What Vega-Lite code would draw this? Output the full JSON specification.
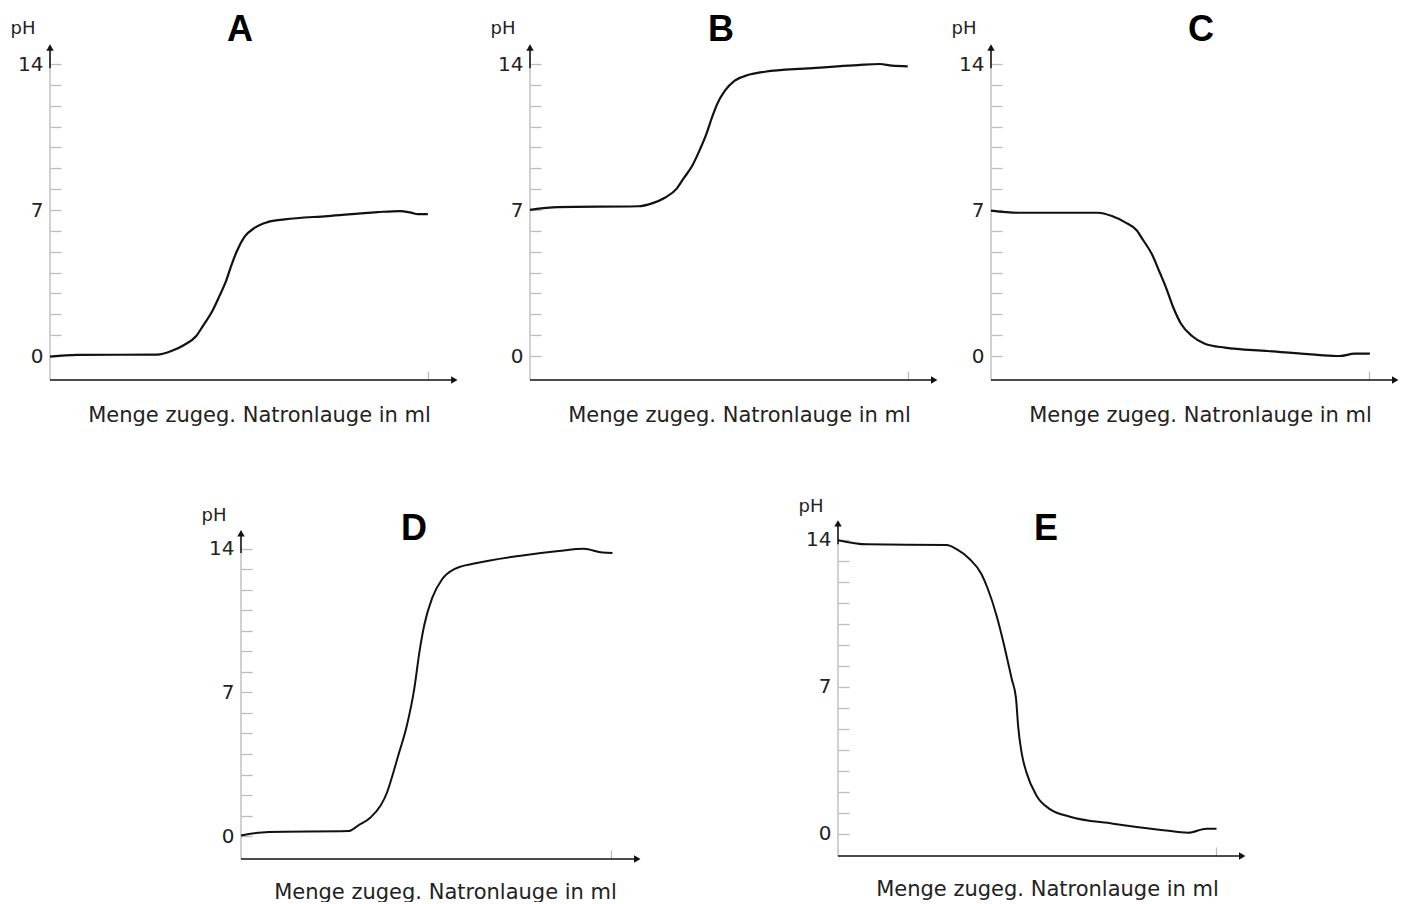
{
  "$schema": "https://vega.github.io/schema/vega-lite/v6.json",
  "autosize": {"type": "pad"},
  "padding": {"left": 10, "top": 12, "right": 0, "bottom": 0},
  "data": {"values": [
    {"panel":"A","ml":0,"pH":-0.03},{"panel":"A","ml":7.2,"pH":0.05},{"panel":"A","ml":28.4,"pH":0.07},{"panel":"A","ml":32.1,"pH":0.24},{"panel":"A","ml":35.5,"pH":0.53},{"panel":"A","ml":38.7,"pH":0.96},{"panel":"A","ml":40.5,"pH":1.45},{"panel":"A","ml":42.7,"pH":2.07},{"panel":"A","ml":44.8,"pH":2.86},{"panel":"A","ml":46.5,"pH":3.55},{"panel":"A","ml":48.0,"pH":4.35},{"panel":"A","ml":49.5,"pH":5.05},{"panel":"A","ml":51.5,"pH":5.72},{"panel":"A","ml":54.1,"pH":6.14},{"panel":"A","ml":57.6,"pH":6.42},{"panel":"A","ml":62.1,"pH":6.55},{"panel":"A","ml":73.5,"pH":6.71},{"panel":"A","ml":86.7,"pH":6.9},{"panel":"A","ml":92.6,"pH":6.95},{"panel":"A","ml":95.8,"pH":6.86},{"panel":"A","ml":97.3,"pH":6.8},{"panel":"A","ml":100,"pH":6.8},
    {"panel":"B","ml":0,"pH":7.01},{"panel":"B","ml":7.4,"pH":7.14},{"panel":"B","ml":28.6,"pH":7.18},{"panel":"B","ml":32.3,"pH":7.32},{"panel":"B","ml":35.7,"pH":7.59},{"panel":"B","ml":38.9,"pH":8.04},{"panel":"B","ml":40.6,"pH":8.5},{"panel":"B","ml":42.9,"pH":9.11},{"panel":"B","ml":45.0,"pH":9.91},{"panel":"B","ml":46.6,"pH":10.6},{"panel":"B","ml":48.1,"pH":11.4},{"panel":"B","ml":49.6,"pH":12.1},{"panel":"B","ml":51.6,"pH":12.72},{"panel":"B","ml":54.2,"pH":13.2},{"panel":"B","ml":57.7,"pH":13.47},{"panel":"B","ml":62.2,"pH":13.63},{"panel":"B","ml":73.5,"pH":13.79},{"panel":"B","ml":86.8,"pH":13.95},{"panel":"B","ml":92.6,"pH":14.0},{"panel":"B","ml":95.8,"pH":13.92},{"panel":"B","ml":100,"pH":13.89},
    {"panel":"C","ml":0,"pH":6.97},{"panel":"C","ml":7.1,"pH":6.87},{"panel":"C","ml":28.3,"pH":6.87},{"panel":"C","ml":32.0,"pH":6.71},{"panel":"C","ml":35.4,"pH":6.42},{"panel":"C","ml":38.6,"pH":6.02},{"panel":"C","ml":40.3,"pH":5.55},{"panel":"C","ml":42.6,"pH":4.88},{"panel":"C","ml":44.7,"pH":3.99},{"panel":"C","ml":46.5,"pH":3.2},{"panel":"C","ml":48.2,"pH":2.35},{"panel":"C","ml":50.3,"pH":1.55},{"panel":"C","ml":53.2,"pH":0.96},{"panel":"C","ml":56.6,"pH":0.59},{"panel":"C","ml":61.9,"pH":0.4},{"panel":"C","ml":73.3,"pH":0.24},{"panel":"C","ml":86.5,"pH":0.05},{"panel":"C","ml":92.3,"pH":0.0},{"panel":"C","ml":96.3,"pH":0.11},{"panel":"C","ml":100.3,"pH":0.11},
    {"panel":"D","ml":0,"pH":0.03},{"panel":"D","ml":7.4,"pH":0.2},{"panel":"D","ml":29.0,"pH":0.24},{"panel":"D","ml":31.7,"pH":0.52},{"panel":"D","ml":34.9,"pH":0.89},{"panel":"D","ml":37.6,"pH":1.46},{"panel":"D","ml":39.4,"pH":2.11},{"panel":"D","ml":40.3,"pH":2.6},{"panel":"D","ml":42.5,"pH":3.95},{"panel":"D","ml":44.8,"pH":5.4},{"panel":"D","ml":46.8,"pH":7.2},{"panel":"D","ml":48.2,"pH":9.0},{"panel":"D","ml":49.5,"pH":10.3},{"panel":"D","ml":51.6,"pH":11.6},{"panel":"D","ml":54.3,"pH":12.52},{"panel":"D","ml":57.9,"pH":13.04},{"panel":"D","ml":63.3,"pH":13.3},{"panel":"D","ml":75.0,"pH":13.66},{"panel":"D","ml":85.8,"pH":13.9},{"panel":"D","ml":92.6,"pH":14.01},{"panel":"D","ml":97.6,"pH":13.82},{"panel":"D","ml":100.3,"pH":13.8},
    {"panel":"E","ml":0,"pH":13.99},{"panel":"E","ml":7.6,"pH":13.79},{"panel":"E","ml":28.8,"pH":13.76},{"panel":"E","ml":31.4,"pH":13.56},{"panel":"E","ml":34.9,"pH":13.08},{"panel":"E","ml":38.0,"pH":12.37},{"panel":"E","ml":39.6,"pH":11.7},{"panel":"E","ml":42.0,"pH":10.38},{"panel":"E","ml":43.7,"pH":9.19},{"panel":"E","ml":46.0,"pH":7.37},{"panel":"E","ml":47.1,"pH":6.49},{"panel":"E","ml":47.7,"pH":5.1},{"panel":"E","ml":48.6,"pH":3.87},{"panel":"E","ml":49.9,"pH":2.92},{"panel":"E","ml":52.6,"pH":1.81},{"panel":"E","ml":56.1,"pH":1.18},{"panel":"E","ml":61.4,"pH":0.82},{"panel":"E","ml":72.8,"pH":0.49},{"panel":"E","ml":86.1,"pH":0.18},{"panel":"E","ml":92.7,"pH":0.06},{"panel":"E","ml":97.5,"pH":0.25},{"panel":"E","ml":100.2,"pH":0.25}
  ]},
  "spacing": 72,
  "vconcat": [
    {
      "spacing": 53,
      "bounds": "flush",
      "hconcat": [
        {
          "width": 427, "height": 336,
          "title": {"text": "A", "anchor": "start", "frame": "group", "align": "center", "dx": 190, "dy": 58, "baseline": "alphabetic", "offset": 0},
          "layer": [
            {"data": {"values": [{}]}, "mark": {"type": "rule", "color": "#bdbdbd", "strokeWidth": 1.4},
             "encoding": {
               "x": {"datum": 0, "type": "quantitative", "scale": {"domain": [0, 113], "nice": false, "zero": false},
                     "axis": {"values": [100], "title": "Menge zugeg. Natronlauge in ml", "titleX": 209, "titleY": 41}},
               "y": {"datum": -1.15, "type": "quantitative", "scale": {"domain": [-1.15, 14.96], "nice": false, "zero": false},
                     "axis": {"values": [0,1,2,3,4,5,6,7,8,9,10,11,12,13,14], "tickCount": 100, "format": "d", "labelExpr": "datum.value % 7 === 0 ? datum.label : ''", "title": "pH", "titleX": -40, "titleY": -11}},
               "y2": {"datum": 14.7}}},
            {"data": {"values": [{}]}, "mark": {"type": "rule", "color": "#111111", "strokeWidth": 1.5},
             "encoding": {"x": {"datum": 0, "type": "quantitative"}, "y": {"datum": 13.8, "type": "quantitative"}, "y2": {"datum": 14.7}}},
            {"data": {"values": [{}]}, "mark": {"type": "rule", "color": "#111111", "strokeWidth": 1.5},
             "encoding": {"x": {"datum": 0, "type": "quantitative"}, "x2": {"datum": 106.5}, "y": {"datum": -1.15, "type": "quantitative"}}},
            {"data": {"values": [{}]}, "mark": {"type": "point", "shape": "triangle-up", "filled": true, "color": "#111111", "size": 55, "opacity": 1},
             "encoding": {"x": {"datum": 0, "type": "quantitative"}, "y": {"datum": 14.79, "type": "quantitative"}}},
            {"data": {"values": [{}]}, "mark": {"type": "point", "shape": "triangle-right", "filled": true, "color": "#111111", "size": 55, "opacity": 1},
             "encoding": {"x": {"datum": 107.0, "type": "quantitative"}, "y": {"datum": -1.15, "type": "quantitative"}}},
            {"transform": [{"filter": "datum.panel === 'A'"}],
             "mark": {"type": "line", "interpolate": "monotone", "color": "#111111", "strokeWidth": 2.2},
             "encoding": {
               "x": {"field": "ml", "type": "quantitative", "axis": {"values": [100], "title": "Menge zugeg. Natronlauge in ml", "titleX": 209, "titleY": 41}},
               "y": {"field": "pH", "type": "quantitative", "axis": {"values": [0,1,2,3,4,5,6,7,8,9,10,11,12,13,14], "tickCount": 100, "format": "d", "labelExpr": "datum.value % 7 === 0 ? datum.label : ''", "title": "pH", "titleX": -40, "titleY": -11}}}}
          ]
        },
        {
          "width": 408, "height": 336,
          "title": {"text": "B", "anchor": "start", "frame": "group", "align": "center", "dx": 191, "dy": 58, "baseline": "alphabetic", "offset": 0},
          "layer": [
            {"data": {"values": [{}]}, "mark": {"type": "rule", "color": "#bdbdbd", "strokeWidth": 1.4},
             "encoding": {
               "x": {"datum": 0, "type": "quantitative", "scale": {"domain": [0, 108], "nice": false, "zero": false},
                     "axis": {"values": [100], "title": "Menge zugeg. Natronlauge in ml", "titleX": 209, "titleY": 41}},
               "y": {"datum": -1.15, "type": "quantitative", "scale": {"domain": [-1.15, 14.96], "nice": false, "zero": false},
                     "axis": {"values": [0,1,2,3,4,5,6,7,8,9,10,11,12,13,14], "tickCount": 100, "format": "d", "labelExpr": "datum.value % 7 === 0 ? datum.label : ''", "title": "pH", "titleX": -40, "titleY": -11}},
               "y2": {"datum": 14.7}}},
            {"data": {"values": [{}]}, "mark": {"type": "rule", "color": "#111111", "strokeWidth": 1.5},
             "encoding": {"x": {"datum": 0, "type": "quantitative"}, "y": {"datum": 13.8, "type": "quantitative"}, "y2": {"datum": 14.7}}},
            {"data": {"values": [{}]}, "mark": {"type": "rule", "color": "#111111", "strokeWidth": 1.5},
             "encoding": {"x": {"datum": 0, "type": "quantitative"}, "x2": {"datum": 106.5}, "y": {"datum": -1.15, "type": "quantitative"}}},
            {"data": {"values": [{}]}, "mark": {"type": "point", "shape": "triangle-up", "filled": true, "color": "#111111", "size": 55, "opacity": 1},
             "encoding": {"x": {"datum": 0, "type": "quantitative"}, "y": {"datum": 14.79, "type": "quantitative"}}},
            {"data": {"values": [{}]}, "mark": {"type": "point", "shape": "triangle-right", "filled": true, "color": "#111111", "size": 55, "opacity": 1},
             "encoding": {"x": {"datum": 107.0, "type": "quantitative"}, "y": {"datum": -1.15, "type": "quantitative"}}},
            {"transform": [{"filter": "datum.panel === 'B'"}],
             "mark": {"type": "line", "interpolate": "monotone", "color": "#111111", "strokeWidth": 2.2},
             "encoding": {
               "x": {"field": "ml", "type": "quantitative", "axis": {"values": [100], "title": "Menge zugeg. Natronlauge in ml", "titleX": 209, "titleY": 41}},
               "y": {"field": "pH", "type": "quantitative", "axis": {"values": [0,1,2,3,4,5,6,7,8,9,10,11,12,13,14], "tickCount": 100, "format": "d", "labelExpr": "datum.value % 7 === 0 ? datum.label : ''", "title": "pH", "titleX": -40, "titleY": -11}}}}
          ]
        },
        {
          "width": 408, "height": 336,
          "title": {"text": "C", "anchor": "start", "frame": "group", "align": "center", "dx": 210, "dy": 58, "baseline": "alphabetic", "offset": 0},
          "layer": [
            {"data": {"values": [{}]}, "mark": {"type": "rule", "color": "#bdbdbd", "strokeWidth": 1.4},
             "encoding": {
               "x": {"datum": 0, "type": "quantitative", "scale": {"domain": [0, 108], "nice": false, "zero": false},
                     "axis": {"values": [100], "title": "Menge zugeg. Natronlauge in ml", "titleX": 209, "titleY": 41}},
               "y": {"datum": -1.15, "type": "quantitative", "scale": {"domain": [-1.15, 14.96], "nice": false, "zero": false},
                     "axis": {"values": [0,1,2,3,4,5,6,7,8,9,10,11,12,13,14], "tickCount": 100, "format": "d", "labelExpr": "datum.value % 7 === 0 ? datum.label : ''", "title": "pH", "titleX": -40, "titleY": -11}},
               "y2": {"datum": 14.7}}},
            {"data": {"values": [{}]}, "mark": {"type": "rule", "color": "#111111", "strokeWidth": 1.5},
             "encoding": {"x": {"datum": 0, "type": "quantitative"}, "y": {"datum": 13.8, "type": "quantitative"}, "y2": {"datum": 14.7}}},
            {"data": {"values": [{}]}, "mark": {"type": "rule", "color": "#111111", "strokeWidth": 1.5},
             "encoding": {"x": {"datum": 0, "type": "quantitative"}, "x2": {"datum": 106.5}, "y": {"datum": -1.15, "type": "quantitative"}}},
            {"data": {"values": [{}]}, "mark": {"type": "point", "shape": "triangle-up", "filled": true, "color": "#111111", "size": 55, "opacity": 1},
             "encoding": {"x": {"datum": 0, "type": "quantitative"}, "y": {"datum": 14.79, "type": "quantitative"}}},
            {"data": {"values": [{}]}, "mark": {"type": "point", "shape": "triangle-right", "filled": true, "color": "#111111", "size": 55, "opacity": 1},
             "encoding": {"x": {"datum": 107.0, "type": "quantitative"}, "y": {"datum": -1.15, "type": "quantitative"}}},
            {"transform": [{"filter": "datum.panel === 'C'"}],
             "mark": {"type": "line", "interpolate": "monotone", "color": "#111111", "strokeWidth": 2.2},
             "encoding": {
               "x": {"field": "ml", "type": "quantitative", "axis": {"values": [100], "title": "Menge zugeg. Natronlauge in ml", "titleX": 209, "titleY": 41}},
               "y": {"field": "pH", "type": "quantitative", "axis": {"values": [0,1,2,3,4,5,6,7,8,9,10,11,12,13,14], "tickCount": 100, "format": "d", "labelExpr": "datum.value % 7 === 0 ? datum.label : ''", "title": "pH", "titleX": -40, "titleY": -11}}}}
          ]
        }
      ]
    },
    {
      "spacing": 190,
      "bounds": "flush",
      "hconcat": [
        {"width": 1, "height": 10, "data": {"values": []}, "mark": "point"},
        {
          "spacing": 197,
          "bounds": "flush",
          "hconcat": [
            {
              "width": 400, "height": 339,
              "title": {"text": "D", "anchor": "start", "frame": "group", "align": "center", "dx": 173, "dy": 70, "baseline": "alphabetic", "offset": 0},
              "layer": [
                {"data": {"values": [{}]}, "mark": {"type": "rule", "color": "#bdbdbd", "strokeWidth": 1.4},
                 "encoding": {
                   "x": {"datum": 0, "type": "quantitative", "scale": {"domain": [0, 108], "nice": false, "zero": false},
                         "axis": {"values": [100], "title": "Menge zugeg. Natronlauge in ml", "titleX": 204, "titleY": 39}},
                   "y": {"datum": -1.12, "type": "quantitative", "scale": {"domain": [-1.12, 15.41], "nice": false, "zero": false},
                         "axis": {"values": [0,1,2,3,4,5,6,7,8,9,10,11,12,13,14], "tickCount": 100, "format": "d", "labelExpr": "datum.value % 7 === 0 ? datum.label : ''", "title": "pH", "titleX": -40, "titleY": 0}},
                   "y2": {"datum": 14.7}}},
                {"data": {"values": [{}]}, "mark": {"type": "rule", "color": "#111111", "strokeWidth": 1.5},
                 "encoding": {"x": {"datum": 0, "type": "quantitative"}, "y": {"datum": 13.8, "type": "quantitative"}, "y2": {"datum": 14.7}}},
                {"data": {"values": [{}]}, "mark": {"type": "rule", "color": "#111111", "strokeWidth": 1.5},
                 "encoding": {"x": {"datum": 0, "type": "quantitative"}, "x2": {"datum": 106.5}, "y": {"datum": -1.12, "type": "quantitative"}}},
                {"data": {"values": [{}]}, "mark": {"type": "point", "shape": "triangle-up", "filled": true, "color": "#111111", "size": 55, "opacity": 1},
                 "encoding": {"x": {"datum": 0, "type": "quantitative"}, "y": {"datum": 14.76, "type": "quantitative"}}},
                {"data": {"values": [{}]}, "mark": {"type": "point", "shape": "triangle-right", "filled": true, "color": "#111111", "size": 55, "opacity": 1},
                 "encoding": {"x": {"datum": 107.0, "type": "quantitative"}, "y": {"datum": -1.12, "type": "quantitative"}}},
                {"transform": [{"filter": "datum.panel === 'D'"}],
                 "mark": {"type": "line", "interpolate": "monotone", "color": "#111111", "strokeWidth": 2.0},
                 "encoding": {
                   "x": {"field": "ml", "type": "quantitative", "axis": {"values": [100], "title": "Menge zugeg. Natronlauge in ml", "titleX": 204, "titleY": 39}},
                   "y": {"field": "pH", "type": "quantitative", "axis": {"values": [0,1,2,3,4,5,6,7,8,9,10,11,12,13,14], "tickCount": 100, "format": "d", "labelExpr": "datum.value % 7 === 0 ? datum.label : ''", "title": "pH", "titleX": -40, "titleY": 0}}}}
              ]
            },
            {
              "width": 408, "height": 336,
              "title": {"text": "E", "anchor": "start", "frame": "group", "align": "center", "dx": 208, "dy": 79, "baseline": "alphabetic", "offset": 0},
              "layer": [
                {"data": {"values": [{}]}, "mark": {"type": "rule", "color": "#bdbdbd", "strokeWidth": 1.4},
                 "encoding": {
                   "x": {"datum": 0, "type": "quantitative", "scale": {"domain": [0, 108], "nice": false, "zero": false},
                         "axis": {"values": [100], "title": "Menge zugeg. Natronlauge in ml", "titleX": 209, "titleY": 39}},
                   "y": {"datum": -1.05, "type": "quantitative", "scale": {"domain": [-1.05, 14.95], "nice": false, "zero": false},
                         "axis": {"values": [0,1,2,3,4,5,6,7,8,9,10,11,12,13,14], "tickCount": 100, "format": "d", "labelExpr": "datum.value % 7 === 0 ? datum.label : ''", "title": "pH", "titleX": -40, "titleY": -9}},
                   "y2": {"datum": 14.7}}},
                {"data": {"values": [{}]}, "mark": {"type": "rule", "color": "#111111", "strokeWidth": 1.5},
                 "encoding": {"x": {"datum": 0, "type": "quantitative"}, "y": {"datum": 13.8, "type": "quantitative"}, "y2": {"datum": 14.7}}},
                {"data": {"values": [{}]}, "mark": {"type": "rule", "color": "#111111", "strokeWidth": 1.5},
                 "encoding": {"x": {"datum": 0, "type": "quantitative"}, "x2": {"datum": 106.5}, "y": {"datum": -1.05, "type": "quantitative"}}},
                {"data": {"values": [{}]}, "mark": {"type": "point", "shape": "triangle-up", "filled": true, "color": "#111111", "size": 55, "opacity": 1},
                 "encoding": {"x": {"datum": 0, "type": "quantitative"}, "y": {"datum": 14.79, "type": "quantitative"}}},
                {"data": {"values": [{}]}, "mark": {"type": "point", "shape": "triangle-right", "filled": true, "color": "#111111", "size": 55, "opacity": 1},
                 "encoding": {"x": {"datum": 107.0, "type": "quantitative"}, "y": {"datum": -1.05, "type": "quantitative"}}},
                {"transform": [{"filter": "datum.panel === 'E'"}],
                 "mark": {"type": "line", "interpolate": "monotone", "color": "#111111", "strokeWidth": 2.0},
                 "encoding": {
                   "x": {"field": "ml", "type": "quantitative", "axis": {"values": [100], "title": "Menge zugeg. Natronlauge in ml", "titleX": 209, "titleY": 39}},
                   "y": {"field": "pH", "type": "quantitative", "axis": {"values": [0,1,2,3,4,5,6,7,8,9,10,11,12,13,14], "tickCount": 100, "format": "d", "labelExpr": "datum.value % 7 === 0 ? datum.label : ''", "title": "pH", "titleX": -40, "titleY": -9}}}}
              ]
            }
          ]
        }
      ]
    }
  ],
  "config": {
    "view": {"stroke": null},
    "font": "DejaVu Sans",
    "axis": {"grid": false, "domain": false, "labelFont": "DejaVu Sans", "titleFont": "DejaVu Sans", "titleFontWeight": "normal", "tickColor": "#bdbdbd", "tickWidth": 1.3, "labelColor": "#222222", "titleColor": "#222222"},
    "axisX": {"labels": false, "tickSize": -9, "titleFontSize": 21, "titleBaseline": "alphabetic", "titleAlign": "center"},
    "axisY": {"tickSize": -11, "labelFontSize": 20, "labelPadding": 18, "titleAngle": 0, "titleAlign": "left", "titleBaseline": "alphabetic", "titleFontSize": 18},
    "title": {"font": "Liberation Sans", "fontSize": 36, "fontWeight": "bold", "color": "#000000"}
  }
}
